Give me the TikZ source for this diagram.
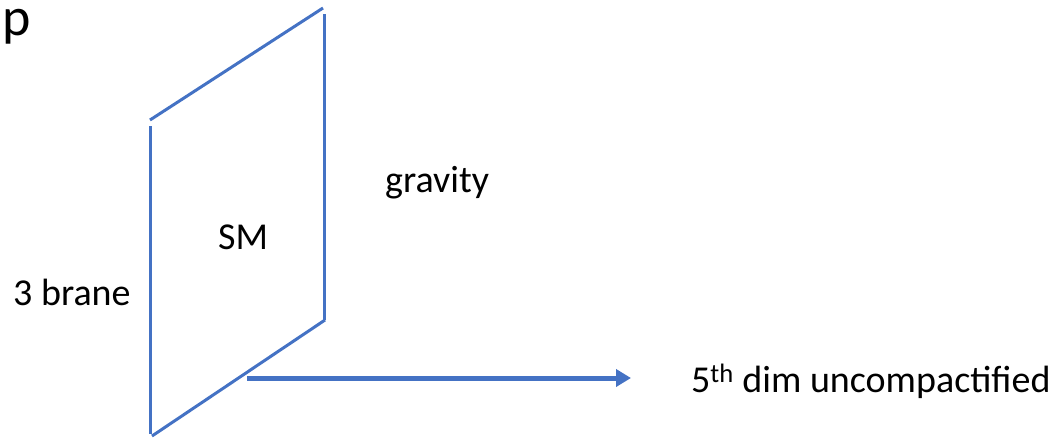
\documentclass[tikz,border=0pt]{standalone}
\usepackage{fontspec}
\setmainfont{Carlito}
\usepackage{xcolor}
\usetikzlibrary{arrows.meta}
\definecolor{brane}{HTML}{4472C4}

\begin{document}
\begin{tikzpicture}[x=1pt, y=-1pt,
      every node/.style={font=\fontsize{38}{44}\selectfont, inner sep=0pt},
      edge/.style={draw=brane, line width=3pt},
      dim/.style={draw=brane, line width=5pt, -{Triangle[length=15pt, width=17pt]}}]
    \useasboundingbox (0,0) rectangle (1055,437);
    % the brane, drawn as four separate strokes
    \draw[edge] (150,126) -- (150,434);
    \draw[edge] (150,120) -- (323,8);
    \draw[edge] (324,14) -- (324,320);
    \draw[edge] (325,320) -- (152,436);
    % labels
    \node[anchor=base west, font=\fontsize{54}{60}\selectfont] (p) at (2,35) {p};
    \node[anchor=base west] (grav) at (385,192) {gravity};
    \node[anchor=base west] (sm) at (218,249) {SM};
    \node[anchor=base west] (lbl) at (13,305) {3 brane};
    \node[anchor=base west] (fifth) at (691,392) {5\textsuperscript{th} dim uncompactified};
    % fifth dimension
    \coordinate (from) at (247,378);
    \coordinate (to) at (631,378);
    \draw[dim] (from) -- (to);
\end{tikzpicture}
\end{document}
